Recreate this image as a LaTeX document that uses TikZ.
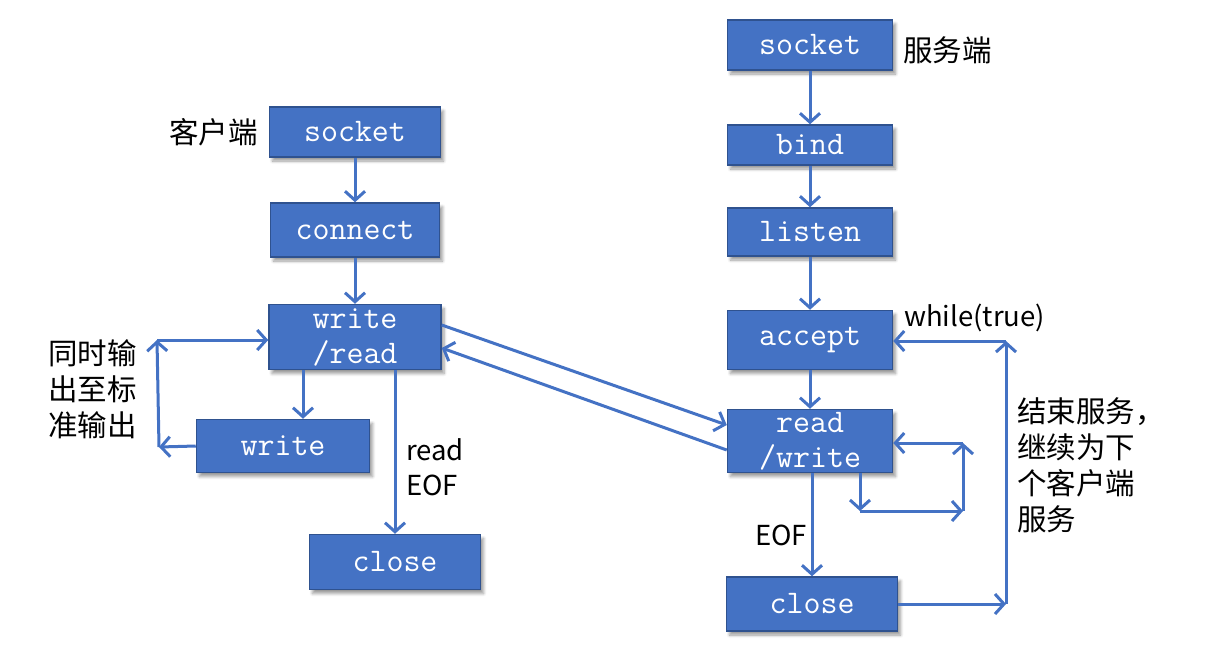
\documentclass[tikz,border=0pt]{standalone}
\usepackage{fontspec}
\setmainfont{Noto Sans CJK SC}
\usetikzlibrary{arrows.meta,shadows.blur}
\definecolor{boxblue}{HTML}{4472C4}
\definecolor{boxedge}{HTML}{2F528F}
\definecolor{arrowblue}{HTML}{4472C4}
\begin{document}
\begin{tikzpicture}[x=1pt,y=-1pt,
 box/.style={draw=boxedge, line width=1.5pt, fill=boxblue, text=white,
   font=\ttfamily\fontsize{33}{35}\selectfont, inner sep=0pt, align=center,
   blur shadow={shadow xshift=3pt, shadow yshift=-4pt, shadow blur steps=6, shadow opacity=40, shadow blur radius=3pt}},
 conn/.style={draw=arrowblue, line width=3pt, -{Straight Barb[length=9pt,width=20pt,line width=3pt]}},
 lbl/.style={font=\fontsize{29.5}{36}\selectfont, inner sep=0pt, align=left, text=black},
 latlbl/.style={lbl, font=\fontsize{27.5}{35}\selectfont}
]
\useasboundingbox (0,0) rectangle (1225,649);

% client
\node[box, minimum width=171pt, minimum height=50pt] (csock) at (355,132) {socket};
\node[box, minimum width=169pt, minimum height=54pt] (cconn) at (355,230) {connect};
\node[box, minimum width=172pt, minimum height=65pt] (cwr) at (355,337) {write\\/read};
\node[box, minimum width=173pt, minimum height=53pt] (cwrite) at (283,446) {write};
\node[box, minimum width=171pt, minimum height=55pt] (cclose) at (395,562) {close};

% server
\node[box, minimum width=165pt, minimum height=50pt] (ssock) at (810,45) {socket};
\node[box, minimum width=165pt, minimum height=40pt] (sbind) at (810,145) {bind};
\node[box, minimum width=165pt, minimum height=48pt] (slisten) at (810,232) {listen};
\node[box, minimum width=165pt, minimum height=59pt] (saccept) at (810,340) {accept};
\node[box, minimum width=165pt, minimum height=63pt] (srw) at (810,441) {read\\/write};
\node[box, minimum width=171pt, minimum height=54pt] (sclose) at (812,604) {close};

% labels
\node[lbl, anchor=east] (lclient) at (258,132) {客户端};
\node[lbl, anchor=west] (lserver) at (903,50) {服务端};
\node[latlbl, anchor=west] (lwhile) at (904,318) {while(true)};
\node[latlbl, anchor=west] (lreof) at (406,467) {read\\EOF};
\node[latlbl, anchor=west] (leof) at (755,535) {EOF};
\node[lbl, anchor=north west] (lend) at (1017,397) {结束服务，\\继续为下\\个客户端\\服务};
\node[lbl, anchor=north west] (lstd) at (48,339) {同时输\\出至标\\准输出};

% coordinates
\coordinate (cL1) at (159,447);
\coordinate (cL2) at (157,340);
\coordinate (sL0) at (860,473);
\coordinate (sL1) at (860,511);
\coordinate (sL2) at (963,511);
\coordinate (sL3) at (963,443);
\coordinate (sC1) at (1006,604);
\coordinate (sC2) at (1006,341);

% client arrows
\draw[conn] (csock) -- (cconn);
\draw[conn] (cconn) -- (cwr);
\draw[conn] ([xshift=20pt]cwr.south -| cwrite.north) -- ([xshift=20pt]cwrite.north);
\draw[conn] (cwrite.west) -- (cL1);
\draw[conn] (cL1) -- (cL2);
\draw[conn] (cL2) -- (cL2 -| cwr.west);
\draw[conn] (cwr.south -| cclose.north) -- (cclose.north);

% cross arrows
\draw[conn] ([yshift=12pt]cwr.east) -- ([yshift=16pt]srw.west);
\draw[conn] ([yshift=-9pt]srw.west) -- ([yshift=-11pt]cwr.east);

% server arrows
\draw[conn] (ssock) -- (sbind);
\draw[conn] (sbind) -- (slisten);
\draw[conn] (slisten) -- (saccept);
\draw[conn] (saccept) -- (srw);
\draw[conn] (sclose.north |- srw.south) -- (sclose.north);
\draw[conn] (sL0) -- (sL1);
\draw[conn] (sL1) -- (sL2);
\draw[conn] (sL2) -- (sL3);
\draw[conn] (sL3) -- (sL3 -| srw.east);
\draw[conn] (sclose.east) -- (sC1);
\draw[conn] (sC1) -- (sC2);
\draw[conn] (sC2) -- (sC2 -| saccept.east);
\end{tikzpicture}
\end{document}
